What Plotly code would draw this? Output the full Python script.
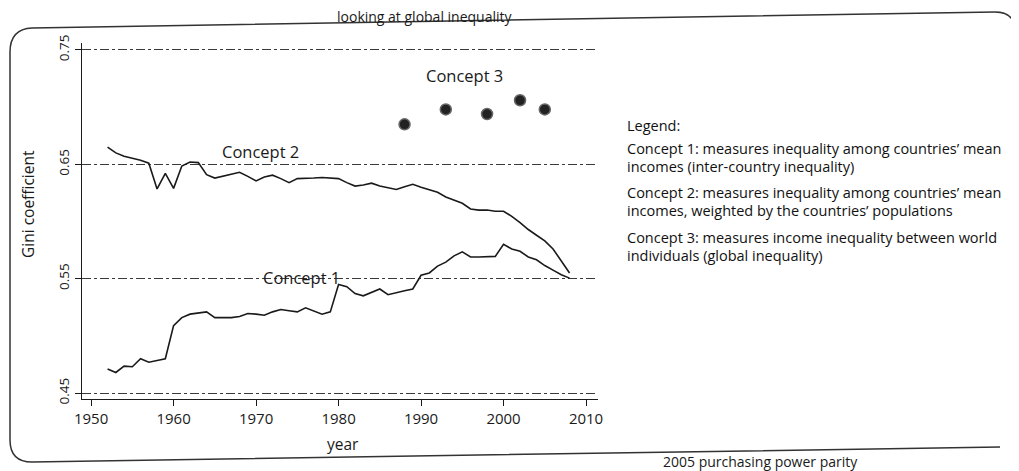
"""Three concepts of inequality: Gini coefficient by year"""

import plotly.graph_objects as go

# ---- data ----
years = list(range(1952, 2009))

concept1 = [
    0.471, 0.468, 0.4735, 0.473, 0.480, 0.477, 0.4785, 0.480,  # 1952-1959
    0.509, 0.516, 0.519, 0.520, 0.521, 0.516, 0.516, 0.516, 0.517, 0.5195,  # 1960s
    0.519, 0.518, 0.521, 0.523, 0.522, 0.521, 0.5245, 0.5215, 0.519, 0.521,  # 1970s
    0.545, 0.543, 0.537, 0.535, 0.538, 0.541, 0.536, 0.538, 0.5395, 0.541,  # 1980s
    0.553, 0.555, 0.561, 0.5645, 0.570, 0.5735, 0.569, 0.569, 0.569, 0.5695,  # 1990s
    0.580, 0.576, 0.574, 0.569, 0.5665, 0.5615, 0.5575, 0.5535, 0.5505,  # 2000-2008
]

concept2 = [
    0.665, 0.660, 0.657, 0.6555, 0.6535, 0.651, 0.6285, 0.642,  # 1952-1959
    0.629, 0.6485, 0.652, 0.6515, 0.641, 0.638, 0.6395, 0.6415, 0.643, 0.6395,  # 1960s
    0.6355, 0.639, 0.6405, 0.6375, 0.634, 0.6375, 0.6375, 0.638, 0.6385, 0.638,  # 1970s
    0.6375, 0.634, 0.631, 0.632, 0.6335, 0.631, 0.6295, 0.628, 0.6305, 0.6325,  # 1980s
    0.630, 0.628, 0.6255, 0.6215, 0.619, 0.616, 0.611, 0.610, 0.610, 0.609,  # 1990s
    0.609, 0.6045, 0.599, 0.593, 0.588, 0.583, 0.576, 0.5655, 0.555,  # 2000-2008
]

concept3_years = [1988, 1993, 1998, 2002, 2005]
concept3 = [0.685, 0.698, 0.694, 0.706, 0.698]

x_ticks = [1950, 1960, 1970, 1980, 1990, 2000, 2010]
y_ticks = [0.45, 0.55, 0.65, 0.75]
y_tick_labels = ["0.45", "0.55", "0.65", "0.75"]

legend_lines = [
    "Legend:",
    "Concept 1: measures inequality among countries\u2019 mean",
    "incomes (inter-country inequality)",
    "Concept 2: measures inequality among countries\u2019 mean",
    "incomes, weighted by the countries\u2019 populations",
    "Concept 3: measures income inequality between world",
    "individuals (global inequality)",
]

# ---- page geometry ----
# the page body has an 8px margin, so the figure is drawn 8px smaller and
# every page position below is shifted by OFF into figure pixels
OFF = 8
W, H = 1019 - OFF, 471 - OFF
PLOT_L, PLOT_R, PLOT_T, PLOT_B = 74, 590, 35, 391
FONT = "Open Sans"
INK = "#1a1a1a"


def px(x):
    return (x - OFF - PLOT_L) / (PLOT_R - PLOT_L)


def py(y):
    return (PLOT_B - (y - OFF)) / (PLOT_B - PLOT_T)


fig = go.Figure()

fig.add_trace(
    go.Scatter(
        x=years, y=concept2, mode="lines",
        line=dict(color=INK, width=1.6), hoverinfo="x+y", name="Concept 2",
    )
)
fig.add_trace(
    go.Scatter(
        x=years, y=concept1, mode="lines",
        line=dict(color=INK, width=1.6), hoverinfo="x+y", name="Concept 1",
    )
)
fig.add_trace(
    go.Scatter(
        x=concept3_years, y=concept3, mode="markers",
        marker=dict(color="#222", size=11, line=dict(color="#666", width=1.5)),
        hoverinfo="x+y", name="Concept 3",
    )
)

label_font = dict(size=16.5, color=INK, family=FONT)
annotations = [
    dict(text="Concept 3", x=1995.3, y=0.728, xref="x", yref="y",
         xanchor="center", yanchor="middle", showarrow=False, font=label_font),
    dict(text="Concept 2", x=1970.5, y=0.661, xref="x", yref="y",
         xanchor="center", yanchor="middle", showarrow=False, font=label_font),
    dict(text="Concept 1", x=1975.5, y=0.551, xref="x", yref="y",
         xanchor="center", yanchor="middle", showarrow=False, font=label_font),
    # axis titles
    dict(text="Gini coefficient", x=px(28), y=py(204), xref="paper", yref="paper",
         xanchor="center", yanchor="middle", showarrow=False, textangle=-90,
         font=dict(size=15.5, color=INK, family=FONT)),
    dict(text="year", x=px(343), y=py(444), xref="paper", yref="paper",
         xanchor="center", yanchor="middle", showarrow=False,
         font=dict(size=15.5, color=INK, family=FONT)),
    # caption fragments of the scanned page
    dict(text="looking at global inequality", x=px(335), y=py(17),
         xref="paper", yref="paper", showarrow=False, xanchor="left",
         yanchor="middle", font=dict(size=14, color=INK, family=FONT)),
    dict(text="2005 purchasing power parity", x=px(860), y=py(461),
         xref="paper", yref="paper", showarrow=False, xanchor="right",
         yanchor="middle", font=dict(size=14, color=INK, family=FONT)),
]

legend_y = [125, 148, 166, 192, 210, 237, 255]
for text, ypix in zip(legend_lines, legend_y):
    annotations.append(
        dict(text=text, x=px(625), y=py(ypix), xref="paper", yref="paper",
             showarrow=False, xanchor="left", yanchor="middle",
             font=dict(size=14.5, color="#111", family=FONT))
    )

# rounded frame around the figure, as on the scanned page
frame = (
    f"M {px(1016)},{py(32)} Q {px(1015)},{py(12)} {px(995)},{py(12)} "
    f"L {px(32)},{py(28)} Q {px(10)},{py(29)} {px(10)},{py(52)} "
    f"L {px(10)},{py(440)} Q {px(10)},{py(462)} {px(32)},{py(462)} "
    f"L {px(1000)},{py(447)}"
)

fig.update_layout(
    width=W,
    height=H,
    margin=dict(l=PLOT_L, r=W - PLOT_R, t=PLOT_T, b=H - PLOT_B),
    paper_bgcolor="white",
    plot_bgcolor="white",
    showlegend=False,
    font=dict(family=FONT, color=INK),
    xaxis=dict(
        range=[1948.9, 2011.45],
        tickvals=x_ticks,
        ticks="outside",
        ticklen=6,
        tickcolor=INK,
        showline=True,
        linecolor=INK,
        linewidth=1.3,
        showgrid=False,
        zeroline=False,
        automargin=False,
        tickfont=dict(size=15, family=FONT, color=INK),
    ),
    yaxis=dict(
        range=[0.4448, 0.7561],
        tickvals=y_ticks,
        ticktext=y_tick_labels,
        tickangle=-90,
        ticks="outside",
        ticklen=6,
        tickcolor=INK,
        showline=True,
        linecolor=INK,
        linewidth=1.3,
        showgrid=True,
        gridcolor="#3a3a3a",
        gridwidth=1,
        griddash="dashdot",
        zeroline=False,
        automargin=False,
        tickfont=dict(size=13.5, family=FONT, color=INK),
    ),
    annotations=annotations,
    shapes=[
        dict(type="path", path=frame, xref="paper", yref="paper",
             line=dict(color="#333", width=1.5), layer="above"),
    ],
)

fig.write_html("out.html")
